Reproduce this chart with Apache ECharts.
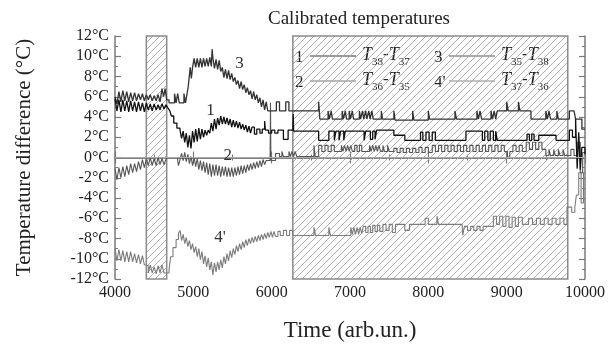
<!DOCTYPE html>
<html>
<head>
<meta charset="utf-8">
<script src="https://cdn.jsdelivr.net/npm/echarts@6.0.0/dist/echarts.min.js"></script>
<style>
  html, body { margin: 0; padding: 0; background: #fff; }
  #chart { width: 608px; height: 347px; }
</style>
</head>
<body>
<div id="chart"></div>
<script>
// time ticks and temperature ticks
const timeTicks = [4000, 5000, 6000, 7000, 8000, 9000, 10000]
const tempTicks = [-12, -10, -8, -6, -4, -2, 0, 2, 4, 6, 8, 10, 12]

// hatched (excluded) time windows
const hatchedRanges = [[4400, 4660], [6270, 9780]]

// curve labels [time, temp, text]
const curveLabels = [[5220, 4.6, '1'], [5440, 0.2, '2'], [5590, 9.3, '3'], [5340, -7.9, "4'"]]

// 1: T38 - T37
const t38_37 = [
  [4000, 5.8], [4025, 4.6], [4050, 5.7], [4075, 4.5], [4100, 5.7], [4125, 4.6], [4150, 5.6], [4175, 4.5],
  [4200, 5.6], [4225, 4.6], [4250, 5.5], [4275, 4.5], [4300, 5.5], [4325, 4.6], [4350, 5.4], [4375, 4.5],
  [4400, 5.4], [4425, 4.7], [4450, 5.3], [4475, 4.6], [4500, 5.3], [4525, 4.7], [4550, 5.2], [4575, 4.7],
  [4600, 5.3], [4625, 4.8], [4650, 5.2], [4675, 4.9], [4700, 4.6], [4720, 4.1], [4750, 3.4], [4790, 2.9],
  [4830, 2.7], [4850, 1.9], [4870, 2.6], [4890, 1.5], [4910, 2.4], [4930, 1.0], [4950, 2.2], [4970, 0.9],
  [4990, 2.6], [5010, 1.5], [5030, 2.8], [5050, 1.6], [5070, 2.9], [5090, 1.8], [5110, 2.8], [5130, 2.0],
  [5150, 2.7], [5170, 2.2], [5190, 2.7], [5210, 2.4], [5230, 3.4], [5250, 2.6], [5270, 3.8], [5290, 2.8],
  [5310, 3.9], [5330, 3.2], [5350, 4.1], [5370, 3.3], [5390, 4.0], [5410, 3.3], [5430, 3.9], [5450, 3.2],
  [5470, 3.8], [5490, 3.0], [5510, 3.7], [5530, 3.0], [5550, 3.6], [5570, 2.9], [5590, 3.5], [5610, 2.8],
  [5630, 3.3], [5650, 2.7], [5670, 3.2], [5690, 2.5], [5710, 3.1], [5730, 2.4], [5750, 3.0], [5780, 2.3],
  [5810, 2.8], [5850, 2.4], [5880, 2.8], [5910, 3.6], [5920, 2.7], [5960, 2.4], [6000, 2.7], [6040, 2.4],
  [6080, 2.7], [6150, 1.8], [6210, 2.7], [6270, 2.7], [6275, 4.3], [6280, 2.6], [6600, 1.7], [6730, 2.6],
  [6800, 1.7], [6820, 2.6], [6860, 1.7], [6880, 2.6], [6920, 1.7], [6940, 2.6], [7180, 1.7], [7200, 2.6],
  [7260, 1.8], [7290, 2.6], [7320, 1.8], [7340, 2.7], [7560, 2.2], [7700, 1.7], [7900, 2.5], [7930, 1.7],
  [7970, 2.5], [8010, 1.7], [8050, 2.5], [8090, 1.7], [8480, 2.6], [8690, 1.7], [8720, 2.6], [8760, 1.7],
  [8790, 2.6], [8830, 1.7], [8860, 2.6], [8880, 1.7], [9260, 2.3], [9290, 1.7], [9320, 2.3], [9350, 1.7],
  [9410, 2.2], [9630, 1.7], [9800, 2.7], [9840, 2.0], [9880, 3.8], [9900, -1.1], [9920, 2.5], [9940, -1.2],
  [9960, 1.0], [10000, 0.3]
]

// 2: T36 - T35
const t36_35 = [
  [4000, -1.1], [4025, -2.2], [4050, -1.0], [4075, -2.0], [4100, -0.9], [4125, -1.9], [4150, -0.8], [4175, -1.7],
  [4200, -0.6], [4225, -1.5], [4250, -0.6], [4275, -1.4], [4300, -0.4], [4325, -1.2], [4350, -0.2], [4375, -1.0],
  [4400, -0.1], [4425, -0.8], [4450, 0.0], [4475, -0.8], [4500, -0.1], [4525, -0.8], [4550, 0.0], [4575, -0.7],
  [4600, -0.1], [4625, -0.7], [4650, -0.2], [4670, 0.0], [4800, -0.3], [4810, -0.8], [4830, -0.2], [4850, 0.4],
  [4870, -0.3], [4890, 0.5], [4910, -0.4], [4930, 0.3], [4950, -0.6], [4970, 0.1], [4990, -0.8], [5010, 0.0],
  [5030, -0.9], [5050, -0.1], [5070, -1.2], [5090, -0.3], [5110, -1.3], [5130, -0.4], [5150, -1.5], [5170, -0.5],
  [5190, -1.7], [5210, -0.6], [5230, -1.9], [5250, -0.7], [5270, -1.8], [5290, -0.7], [5310, -1.8], [5330, -0.8],
  [5350, -1.9], [5370, -0.9], [5390, -1.8], [5410, -0.9], [5430, -1.9], [5450, -1.0], [5470, -1.9], [5490, -1.0],
  [5510, -1.9], [5530, -1.0], [5550, -1.8], [5570, -0.9], [5590, -1.7], [5610, -0.8], [5630, -1.6], [5650, -0.8],
  [5670, -1.5], [5690, -0.7], [5710, -1.3], [5730, -0.6], [5750, -1.2], [5770, -0.5], [5790, -1.1], [5810, -0.4],
  [5830, -1.0], [5850, -0.3], [5870, -0.9], [5890, -0.2], [5910, -0.7], [5930, -0.3], [5980, -0.3], [5985, 5.4],
  [5990, -0.3], [6050, 0.4], [6100, 0.1], [6130, 0.6], [6150, 0.1], [6220, 0.6], [6240, 0.1], [6260, 0.6],
  [6280, 0.1], [6300, 0.6], [6320, 0.1], [6540, 1.2], [6555, 0.1], [6600, 1.2], [6640, 0.6], [6680, 1.2],
  [6720, 0.6], [6760, 1.2], [6800, 0.6], [6890, 1.2], [6910, 0.6], [6930, 1.2], [6950, 0.6], [6970, 1.2],
  [6990, 0.6], [7010, 1.2], [7030, 0.6], [7060, 1.2], [7090, 0.6], [7120, 1.2], [7150, 0.6], [7250, 1.2],
  [7270, 0.6], [7290, 1.2], [7310, 0.6], [7330, 1.2], [7350, 0.6], [7370, 1.2], [7390, 0.6], [7420, 1.2],
  [7440, 0.6], [7480, 1.2], [7500, 0.6], [7560, 0.9], [7600, 0.5], [7640, 0.9], [7680, 0.5], [7720, 0.9],
  [7760, 0.5], [7800, 0.9], [7840, 0.5], [7880, 1.0], [7920, 0.5], [7960, 1.0], [8000, 0.5], [8050, 1.2],
  [8090, 0.6], [8130, 1.2], [8170, 0.6], [8210, 1.2], [8250, 0.6], [8290, 1.2], [8330, 0.6], [8370, 1.2],
  [8410, 0.6], [8450, 1.2], [8490, 0.6], [8530, 1.2], [8570, 0.6], [8610, 1.2], [8650, 0.6], [8690, 1.2],
  [8730, 0.6], [8770, 1.2], [8810, 0.6], [8850, 1.2], [8890, 0.6], [8930, 1.2], [8970, 0.6], [9010, 0.0],
  [9040, 0.6], [9080, 1.2], [9120, 0.6], [9160, 1.2], [9200, 0.6], [9250, 1.5], [9290, 0.8], [9330, 1.5],
  [9370, 0.8], [9410, 1.5], [9450, 0.8], [9500, 0.2], [9540, 0.8], [9560, 0.2], [9600, 0.8], [9620, 0.2],
  [9660, 0.8], [9680, 0.2], [9720, 0.8], [9740, 0.2], [9820, 0.8], [9860, 0.2], [9900, 1.5], [9940, -1.5],
  [9970, 0.5], [10000, 0.5]
]

// 3: T35 - T38
const t35_38 = [
  [4000, 6.0], [4025, 5.3], [4050, 6.5], [4075, 5.5], [4100, 6.6], [4125, 5.6], [4150, 6.5], [4175, 5.5],
  [4200, 6.4], [4225, 5.6], [4250, 6.4], [4275, 5.6], [4300, 6.3], [4325, 5.7], [4350, 6.3], [4375, 5.6],
  [4400, 6.2], [4425, 5.7], [4450, 6.2], [4475, 5.6], [4500, 6.1], [4525, 5.6], [4550, 6.2], [4575, 5.5],
  [4600, 6.8], [4620, 6.0], [4640, 6.8], [4660, 5.7], [4690, 5.4], [4760, 6.3], [4780, 5.4], [4800, 6.3],
  [4820, 5.4], [4880, 6.3], [4900, 5.4], [4920, 6.3], [4935, 7.0], [4960, 8.9], [4975, 7.8], [4990, 8.9],
  [5010, 9.8], [5030, 8.9], [5050, 9.8], [5070, 8.9], [5090, 9.8], [5110, 8.9], [5130, 9.8], [5150, 9.0],
  [5170, 9.8], [5190, 9.0], [5210, 9.9], [5230, 9.0], [5240, 10.7], [5250, 9.8], [5270, 8.8], [5290, 9.7],
  [5310, 8.7], [5330, 9.6], [5350, 8.5], [5370, 8.9], [5390, 7.9], [5410, 8.7], [5430, 7.8], [5450, 8.6],
  [5470, 7.7], [5490, 8.3], [5510, 7.5], [5530, 7.9], [5550, 7.2], [5570, 7.6], [5590, 6.8], [5610, 7.5],
  [5630, 6.7], [5650, 7.2], [5670, 6.4], [5690, 6.9], [5710, 6.2], [5730, 6.6], [5750, 5.8], [5770, 6.5],
  [5790, 5.7], [5810, 6.2], [5830, 5.4], [5850, 5.9], [5870, 5.0], [5890, 5.7], [5910, 4.7], [5930, 5.5],
  [5950, 4.6], [6060, 5.5], [6100, 4.6], [6180, 5.5], [6220, 4.6], [6600, 5.5], [6615, 3.8], [6720, 4.6],
  [6735, 3.8], [6760, 4.6], [6775, 3.8], [6900, 4.6], [6915, 3.8], [6940, 4.6], [6955, 3.8], [6990, 4.6],
  [7005, 3.8], [7030, 4.6], [7045, 3.8], [7120, 4.6], [7135, 3.8], [7160, 4.6], [7175, 3.8], [7200, 4.6],
  [7215, 3.8], [7240, 4.6], [7255, 3.8], [7280, 4.6], [7295, 3.8], [7400, 4.6], [7415, 3.8], [7560, 4.6],
  [7575, 3.7], [7800, 4.6], [7815, 3.7], [8000, 4.6], [8015, 3.8], [8340, 4.6], [8360, 3.8], [8620, 4.6],
  [8640, 3.8], [8660, 4.6], [8680, 3.8], [8800, 4.6], [8820, 3.8], [8840, 4.6], [8860, 3.8], [8880, 4.6],
  [9000, 5.5], [9020, 4.6], [9150, 5.5], [9170, 4.6], [9310, 3.8], [9500, 4.6], [9520, 3.8], [9540, 4.6],
  [9560, 3.8], [9640, 4.6], [9660, 3.8], [9800, 4.6], [9860, 4.6], [9880, 3.8], [9960, 2.8], [10000, 2.8]
]

// 4': T37 - T36
const t37_36 = [
  [4000, -9.0], [4025, -10.2], [4050, -9.1], [4075, -10.2], [4100, -9.2], [4125, -10.3], [4150, -9.3], [4175, -10.3],
  [4200, -9.3], [4225, -10.3], [4250, -9.5], [4275, -10.4], [4300, -9.6], [4325, -10.5], [4350, -9.7], [4375, -10.6],
  [4400, -10.7], [4425, -11.4], [4450, -10.6], [4475, -11.4], [4500, -10.8], [4525, -11.5], [4550, -10.7], [4575, -11.4],
  [4600, -10.6], [4625, -11.4], [4690, -11.1], [4710, -9.8], [4740, -8.9], [4780, -8.1], [4810, -7.5], [4830, -7.2],
  [4850, -8.2], [4870, -7.6], [4890, -8.5], [4910, -7.9], [4930, -8.8], [4950, -8.2], [4970, -9.1], [4990, -8.5],
  [5010, -9.4], [5030, -8.8], [5050, -9.8], [5070, -9.0], [5090, -10.1], [5110, -9.3], [5130, -10.5], [5150, -9.7],
  [5170, -10.8], [5190, -9.9], [5210, -11.1], [5230, -10.3], [5250, -11.6], [5270, -10.4], [5290, -11.3], [5310, -10.3],
  [5330, -11.1], [5350, -10.1], [5370, -10.9], [5390, -9.8], [5410, -10.5], [5430, -9.5], [5450, -10.2], [5470, -9.2],
  [5490, -9.9], [5510, -9.0], [5530, -9.6], [5550, -8.7], [5570, -9.3], [5590, -8.5], [5610, -9.1], [5630, -8.3],
  [5650, -8.9], [5670, -8.1], [5690, -8.7], [5710, -8.0], [5730, -8.5], [5750, -7.9], [5770, -8.4], [5790, -7.8],
  [5810, -8.3], [5830, -7.7], [5850, -8.2], [5870, -7.6], [5890, -8.1], [5910, -7.5], [5930, -8.0], [5950, -7.4],
  [5970, -7.9], [5990, -7.3], [6010, -7.9], [6030, -7.3], [6050, -7.8], [6080, -7.3], [6110, -7.7], [6150, -7.2],
  [6190, -7.7], [6230, -7.2], [6270, -7.7], [6540, -6.9], [6560, -7.7], [6730, -6.9], [6750, -7.7], [7010, -6.9],
  [7030, -7.6], [7050, -6.9], [7070, -7.6], [7090, -6.9], [7110, -7.6], [7130, -6.9], [7150, -7.5], [7170, -6.8],
  [7200, -7.4], [7230, -6.8], [7260, -7.4], [7290, -6.7], [7320, -7.3], [7350, -6.7], [7380, -7.3], [7420, -6.6],
  [7460, -7.2], [7500, -6.6], [7540, -7.4], [7580, -6.6], [7700, -7.2], [7760, -6.6], [7960, -6.0], [8000, -6.6],
  [8110, -5.8], [8130, -6.6], [8430, -6.6], [8440, -7.7], [8460, -6.8], [8500, -7.2], [8540, -6.8], [8580, -7.2],
  [8620, -6.8], [8660, -7.2], [8700, -6.8], [8830, -5.8], [8870, -6.6], [8910, -5.8], [8950, -6.8], [8990, -5.8],
  [9030, -6.9], [9070, -5.9], [9110, -6.8], [9150, -5.9], [9200, -6.6], [9280, -6.0], [9330, -6.6], [9380, -6.0],
  [9430, -6.6], [9480, -6.0], [9530, -6.6], [9580, -6.0], [9630, -6.6], [9680, -6.0], [9730, -6.6], [9770, -4.9],
  [9830, -5.4], [9870, -4.9], [9890, -3.7], [9920, -1.5], [9950, -4.5], [9980, -1.5], [10000, -1.5]
]

const serif = '"Liberation Serif", "DejaVu Serif", serif'
const ink = '#222'
const frame = '#7a7a7a'

function hatchPattern() {
  const c = document.createElement('canvas')
  c.width = 7
  c.height = 7
  const g = c.getContext('2d')
  g.strokeStyle = '#a8a8a8'
  g.lineWidth = 0.9
  g.beginPath()
  g.moveTo(0, 7)
  g.lineTo(7, 0)
  g.moveTo(-1, 1)
  g.lineTo(1, -1)
  g.moveTo(6, 8)
  g.lineTo(8, 6)
  g.stroke()
  return c
}

const chart = echarts.init(document.getElementById('chart'), null, { renderer: 'canvas' })

const axisCommon = {
  type: 'value',
  axisLine: { show: true, lineStyle: { color: frame, width: 1.5 } },
  axisTick: { show: true, inside: true, length: 6, lineStyle: { color: frame, width: 1.2 } },
  minorTick: { show: true, splitNumber: 2, length: 3, lineStyle: { color: frame, width: 1 } },
  splitLine: { show: false },
  minorSplitLine: { show: false },
}

const xBase = { ...axisCommon, min: timeTicks[0], max: timeTicks[timeTicks.length - 1], interval: 1000 }
const yBase = { ...axisCommon, min: tempTicks[0], max: tempTicks[tempTicks.length - 1], interval: 2 }

function lineSeries(name, data, color, width, labelIdx) {
  const lab = curveLabels[labelIdx]
  return {
    name,
    type: 'line',
    step: 'end',
    data,
    symbol: 'none',
    silent: true,
    lineStyle: { color, width },
    markPoint: {
      symbol: 'circle',
      symbolSize: 0,
      silent: true,
      label: {
        show: true,
        position: 'inside',
        formatter: lab[2],
        color: '#333',
        fontFamily: serif,
        fontSize: 17,
      },
      data: [{ coord: [lab[0], lab[1]] }],
    },
  }
}

const s4 = lineSeries('T37-T36', t37_36, '#7c7c7c', 1.1, 3)
s4.markArea = {
  silent: true,
  itemStyle: {
    color: { image: hatchPattern(), repeat: 'repeat' },
    borderColor: '#8a8a8a',
    borderWidth: 1.5,
  },
  data: hatchedRanges.map(r => [{ xAxis: r[0] }, { xAxis: r[1] }]),
}
s4.markLine = {
  silent: true,
  symbol: 'none',
  label: { show: false },
  lineStyle: { color: '#aaa', width: 1, type: 'solid' },
  data: [{ yAxis: 0 }],
}

const series = [
  s4,
  lineSeries('T36-T35', t36_35, '#555', 1.1, 1),
  lineSeries('T35-T38', t35_38, '#333', 1.3, 2),
  lineSeries('T38-T37', t38_37, '#111', 1.3, 0),
]

// legend drawn as text blocks: [number, x, y, sub1, sub2, line color]
const legendRows = [
  ['1', 300, 59, '38', '37', '#333'],
  ['3', 439, 59, '35', '38', '#555'],
  ['2', 300, 84, '36', '35', '#777'],
  ["4'", 439, 84, '37', '36', '#888'],
]

const legendRich = {
  t: { fontFamily: serif, fontStyle: 'italic', fontSize: 18, lineHeight: 22, verticalAlign: 'top', fill: ink },
  d: { fontFamily: serif, fontSize: 17, lineHeight: 22, verticalAlign: 'top', fill: ink },
  s: { fontFamily: serif, fontSize: 11, lineHeight: 11, verticalAlign: 'bottom', fill: ink },
}

const graphics = []
legendRows.forEach(r => {
  graphics.push({
    type: 'text', left: r[1] - 5, top: r[2] - 10, silent: true,
    style: { text: r[0], font: '17px ' + serif, fill: ink },
  })
  graphics.push({
    type: 'line', silent: true,
    shape: { x1: r[1] + 10, y1: r[2] - 3, x2: r[1] + 56, y2: r[2] - 3 },
    style: { stroke: r[5], lineWidth: 1 },
  })
  graphics.push({
    type: 'text', left: r[1] + 62, top: r[2] - 13, silent: true,
    style: {
      text: '{t|T}{s|' + r[3] + '}{d|-}{t|T}{s|' + r[4] + '}',
      rich: legendRich,
    },
  })
})

chart.setOption({
  animation: false,
  backgroundColor: '#fff',
  title: {
    text: 'Calibrated temperatures',
    left: 263,
    top: 5,
    textStyle: { fontFamily: serif, fontSize: 19, fontWeight: 'normal', color: ink },
  },
  grid: { left: 115, right: 22, top: 36, bottom: 50 },
  xAxis: [
    {
      ...xBase,
      position: 'bottom',
      name: 'Time (arb.un.)',
      nameLocation: 'middle',
      nameGap: 40,
      nameTextStyle: { fontFamily: serif, fontSize: 23, color: ink },
      axisLabel: { show: true, margin: 6, fontFamily: serif, fontSize: 16, color: ink, formatter: v => String(v) },
    },
    { ...xBase, position: 'top', axisLabel: { show: false } },
  ],
  yAxis: [
    {
      ...yBase,
      position: 'left',
      name: 'Temperature difference (°C)',
      nameLocation: 'middle',
      nameGap: 80,
      nameTextStyle: { fontFamily: serif, fontSize: 21, color: ink },
      axisLabel: { show: true, margin: 6, fontFamily: serif, fontSize: 16, color: ink, formatter: v => v + '°C' },
    },
    { ...yBase, position: 'right', axisLabel: { show: false } },
  ],
  series,
  graphic: graphics,
})
</script>
</body>
</html>
